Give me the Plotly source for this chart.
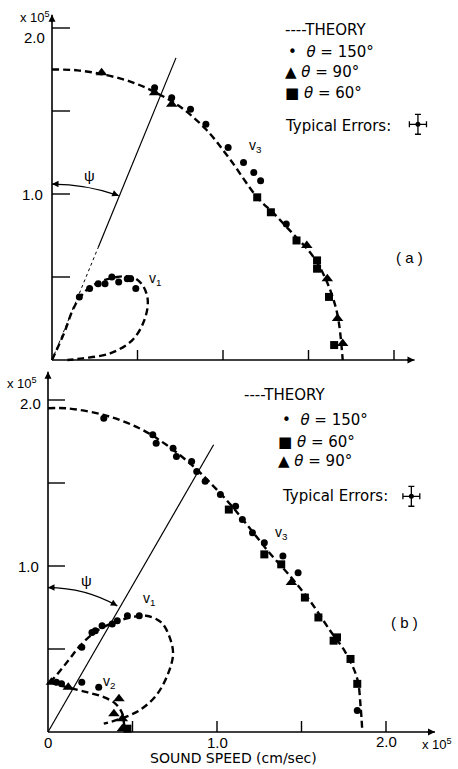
import plotly.graph_objects as go

# ---------------- panel (a) ----------------
a_v3_theory_x = [0, 0.15, 0.30, 0.45, 0.60, 0.75, 0.90, 1.04, 1.20, 1.30, 1.40, 1.50, 1.56, 1.62, 1.67, 1.70]
a_v3_theory_y = [1.75, 1.745, 1.72, 1.68, 1.615, 1.525, 1.39, 1.21, 0.98, 0.88, 0.77, 0.66, 0.57, 0.44, 0.27, 0.0]
a_v1_theory_x = [0, 0.07, 0.13, 0.20, 0.28, 0.38, 0.47, 0.53, 0.56, 0.54, 0.47, 0.34, 0.18, 0.09]
a_v1_theory_y = [0, 0.16, 0.32, 0.42, 0.47, 0.50, 0.50, 0.45, 0.36, 0.24, 0.12, 0.04, 0.01, 0.0]

a_c150_x = [0.60, 0.70, 0.81, 0.90, 1.03, 1.12, 1.18, 1.22, 1.37,
            0.16, 0.22, 0.27, 0.31, 0.35, 0.39, 0.44, 0.46, 0.49]
a_c150_y = [1.64, 1.58, 1.51, 1.42, 1.28, 1.19, 1.13, 1.08, 0.82,
            0.38, 0.43, 0.46, 0.46, 0.50, 0.47, 0.49, 0.49, 0.43]
a_t90_x = [0.29, 0.60, 0.70, 1.49, 1.61, 1.67, 1.70]
a_t90_y = [1.73, 1.61, 1.54, 0.69, 0.49, 0.25, 0.10]
a_s60_x = [1.20, 1.28, 1.43, 1.55, 1.55, 1.62, 1.65]
a_s60_y = [0.98, 0.89, 0.72, 0.60, 0.55, 0.38, 0.09]

a_psi_dir = [0.725, 1.82]      # end of the psi line
a_psi_break = 0.27             # below this x the line is dashed
a_arc = [[0, 1.06], [0.20, 1.06], [0.39, 0.99]]

# ---------------- panel (b) ----------------
b_v3_theory_x = [0, 0.11, 0.33, 0.54, 0.70, 0.86, 0.98, 1.08, 1.20, 1.31, 1.44, 1.55, 1.67, 1.76, 1.83, 1.85, 1.86]
b_v3_theory_y = [1.95, 1.95, 1.91, 1.83, 1.73, 1.60, 1.48, 1.37, 1.22, 1.08, 0.93, 0.79, 0.61, 0.48, 0.32, 0.15, 0.0]
b_v1_theory_x = [0.01, 0.04, 0.12, 0.19, 0.29, 0.39, 0.49, 0.58, 0.67, 0.72, 0.74, 0.71, 0.64, 0.54, 0.43, 0.33]
b_v1_theory_y = [0.30, 0.33, 0.43, 0.52, 0.61, 0.66, 0.69, 0.70, 0.66, 0.57, 0.47, 0.35, 0.22, 0.13, 0.08, 0.05]
b_v2_theory_x = [0.01, 0.11, 0.23, 0.33, 0.40, 0.44, 0.45, 0.46]
b_v2_theory_y = [0.30, 0.27, 0.24, 0.21, 0.17, 0.11, 0.05, 0.0]

b_c150_x = [0.33, 0.62, 0.64, 0.74, 0.76, 0.85, 0.88, 0.93, 1.02, 1.11, 1.15, 1.21, 1.28, 1.39, 1.48, 1.83,
            0.05, 0.08, 0.20, 0.26, 0.28, 0.32, 0.38, 0.41, 0.47, 0.54, 0.20, 0.30]
b_c150_y = [1.89, 1.79, 1.74, 1.71, 1.66, 1.63, 1.57, 1.51, 1.43, 1.36, 1.28, 1.20, 1.14, 1.06, 0.96, 0.13,
            0.30, 0.29, 0.51, 0.60, 0.61, 0.64, 0.65, 0.67, 0.70, 0.70, 0.30, 0.27]
b_s60_x = [1.07, 1.28, 1.38, 1.52, 1.60, 1.69, 1.71, 1.79, 1.83, 0.47]
b_s60_y = [1.34, 1.07, 1.01, 0.81, 0.69, 0.55, 0.57, 0.44, 0.29, 0.02]
b_t90_x = [1.44, 0.02, 0.12, 0.42, 0.39, 0.44, 0.44]
b_t90_y = [0.90, 0.30, 0.27, 0.20, 0.11, 0.08, 0.02]

b_psi_dir = [0.98, 1.73]
b_arc = [[0, 0.87], [0.22, 0.87], [0.41, 0.76]]

ticks = [0.5, 1.0, 1.5, 2.0]

W, H = 458, 769
# pixel position of each origin and pixels per 1e5 cm/s
A_ORG, A_SX, A_SY, A_TOP, A_BOT = (52, 360), 171, 166, 0, 369
B_ORG, B_SX, B_SY, B_TOP, B_BOT = (48, 732), 169, 166, 370, 769

INK = "black"
FONT = "Liberation Sans"
WIDE = "DejaVu Sans"

fig = go.Figure()


def theory(x, y, xa, ya):
    fig.add_trace(go.Scatter(x=x, y=y, xaxis=xa, yaxis=ya, mode="lines",
                             line=dict(color=INK, width=2.4, dash="7px,4px", shape="spline", smoothing=1.0),
                             showlegend=False, hoverinfo="skip"))


def pts(x, y, sym, size, xa, ya):
    fig.add_trace(go.Scatter(x=x, y=y, xaxis=xa, yaxis=ya, mode="markers",
                             marker=dict(symbol=sym, size=size, color=INK), showlegend=False))


theory(a_v3_theory_x, a_v3_theory_y, "x", "y")
theory(a_v1_theory_x, a_v1_theory_y, "x", "y")
pts(a_c150_x, a_c150_y, "circle", 7, "x", "y")
pts(a_t90_x, a_t90_y, "triangle-up", 10, "x", "y")
pts(a_s60_x, a_s60_y, "square", 8, "x", "y")

theory(b_v3_theory_x, b_v3_theory_y, "x2", "y2")
theory(b_v1_theory_x, b_v1_theory_y, "x2", "y2")
theory(b_v2_theory_x, b_v2_theory_y, "x2", "y2")
pts(b_c150_x, b_c150_y, "circle", 7, "x2", "y2")
pts(b_s60_x, b_s60_y, "square", 8, "x2", "y2")
pts(b_t90_x, b_t90_y, "triangle-up", 10, "x2", "y2")

# psi lines
slope_a = a_psi_dir[1] / a_psi_dir[0]
fig.add_trace(go.Scatter(x=[0, a_psi_break], y=[0, a_psi_break * slope_a], xaxis="x", yaxis="y", mode="lines",
                         line=dict(color=INK, width=1, dash="3px,3px"), showlegend=False))
fig.add_trace(go.Scatter(x=[a_psi_break, a_psi_dir[0]], y=[a_psi_break * slope_a, a_psi_dir[1]], xaxis="x", yaxis="y",
                         mode="lines", line=dict(color=INK, width=1.2), showlegend=False))
fig.add_trace(go.Scatter(x=[0, b_psi_dir[0]], y=[0, b_psi_dir[1]], xaxis="x2", yaxis="y2", mode="lines",
                         line=dict(color=INK, width=1.2), showlegend=False))

# typical error glyphs
for xa, ya, gx in (("x", "y", 2.14), ("x2", "y2", 2.15)):
    fig.add_trace(go.Scatter(x=[gx], y=[1.42], xaxis=xa, yaxis=ya, mode="markers",
                             marker=dict(size=5, color=INK),
                             error_x=dict(type="constant", value=0.05, color=INK, thickness=1.3, width=3),
                             error_y=dict(type="constant", value=0.06, color=INK, thickness=1.3, width=3),
                             showlegend=False))

shapes = []
ann = []


def axes(xr, yr, x_end, y_end, sx, sy, xtick_len, ytick_len):
    shapes.append(dict(type="line", xref=xr, yref=yr, x0=0, y0=0, x1=0, y1=y_end, line=dict(color=INK, width=1.6)))
    shapes.append(dict(type="line", xref=xr, yref=yr, x0=0, y0=0, x1=x_end, y1=0, line=dict(color=INK, width=1.6)))
    for t in ticks:
        shapes.append(dict(type="line", xref=xr, yref=yr, x0=0, y0=t, x1=ytick_len / sx, y1=t,
                           line=dict(color=INK, width=1.4)))
        shapes.append(dict(type="line", xref=xr, yref=yr, x0=t, y0=0, x1=t, y1=xtick_len / sy,
                           line=dict(color=INK, width=1.4)))
    ann.append(dict(xref=xr, yref=yr, x=0, y=y_end, ax=0, ay=9, text="", showarrow=True,
                    arrowhead=2, arrowsize=1, arrowwidth=1.4, arrowcolor=INK))
    ann.append(dict(xref=xr, yref=yr, x=x_end, y=0, ax=-9, ay=0, text="", showarrow=True,
                    arrowhead=2, arrowsize=1, arrowwidth=1.4, arrowcolor=INK))


axes("x", "y", 2.12, 2.08, A_SX, A_SY, 10, 18)
axes("x2", "y2", 2.29, 2.17, B_SX, B_SY, 11, 17)


def arc(xr, yr, p, tail_end):
    (x0, y0), (cx, cy), (x1, y1) = p
    shapes.append(dict(type="path", xref=xr, yref=yr, path=f"M {x0},{y0} Q {cx},{cy} {x1},{y1}",
                       line=dict(color=INK, width=1.3)))
    ann.append(dict(xref=xr, yref=yr, x=x0, y=y0, ax=8, ay=0, text="", showarrow=True,
                    arrowhead=2, arrowsize=1, arrowwidth=1.3, arrowcolor=INK))
    ann.append(dict(xref=xr, yref=yr, x=x1, y=y1, ax=tail_end[0], ay=tail_end[1], text="", showarrow=True,
                    arrowhead=2, arrowsize=1, arrowwidth=1.3, arrowcolor=INK))


arc("x", "y", a_arc, (-7.4, -3.0))
arc("x2", "y2", b_arc, (-7.0, -3.9))


def txt(xr, yr, x, y, s, size=14, xanchor="center", yanchor="middle", family=FONT):
    ann.append(dict(xref=xr, yref=yr, x=x, y=y, text=s, showarrow=False, xanchor=xanchor, yanchor=yanchor,
                    font=dict(family=family, size=size, color=INK)))


# panel (a) text
txt("x", "y", -0.10, 2.006, "x 10<sup>5</sup>", 13, yanchor="bottom")
txt("x", "y", -0.03, 2.006, "2.0", 15, "right", "top")
txt("x", "y", -0.04, 1.0, "1.0", 15, "right")
txt("x", "y", 0.22, 1.11, "ψ", 15)
txt("x", "y", 0.60, 0.49, "v<sub>1</sub>", 14)
txt("x", "y", 1.19, 1.29, "v<sub>3</sub>", 14)
txt("x", "y", 2.09, 0.62, "( a )", 15)
txt("x", "y", 1.35, 1.99, "----THEORY", 15, "left", family=WIDE)
txt("x", "y", 1.37, 1.855, "•  <i>θ</i> = 150°", 15, "left", family=WIDE)
txt("x", "y", 1.35, 1.735, "▲ <i>θ</i> = 90°", 15, "left", family=WIDE)
txt("x", "y", 1.35, 1.61, "■ <i>θ</i> = 60°", 15, "left", family=WIDE)
txt("x", "y", 1.35, 1.41, "Typical Errors:", 15, "left", family=WIDE)

# panel (b) text
txt("x2", "y2", -0.154, 2.042, "x 10<sup>5</sup>", 13, yanchor="bottom")
txt("x2", "y2", -0.03, 2.042, "2.0", 15, "right", "top")
txt("x2", "y2", -0.04, 1.0, "1.0", 15, "right")
txt("x2", "y2", 0.0, -0.066, "0", 15)
txt("x2", "y2", 1.0, -0.066, "1.0", 15)
txt("x2", "y2", 2.0, -0.06, "2.0", 15)
txt("x2", "y2", 2.20, -0.075, "x 10<sup>5</sup>", 13, "left")
txt("x2", "y2", 1.10, (B_ORG[1] - (H - 1)) / B_SY, "SOUND SPEED (cm/sec)", 14, yanchor="bottom", family=WIDE)
txt("x2", "y2", 0.23, 0.91, "ψ", 15)
txt("x2", "y2", 0.60, 0.80, "v<sub>1</sub>", 14)
txt("x2", "y2", 0.36, 0.30, "v<sub>2</sub>", 14)
txt("x2", "y2", 1.38, 1.20, "v<sub>3</sub>", 14)
txt("x2", "y2", 2.11, 0.66, "( b )", 15)
txt("x2", "y2", 1.15, 2.03, "----THEORY", 15, "left", family=WIDE)
txt("x2", "y2", 1.37, 1.88, "•  <i>θ</i> = 150°", 15, "left", family=WIDE)
txt("x2", "y2", 1.35, 1.75, "■ <i>θ</i> = 60°", 15, "left", family=WIDE)
txt("x2", "y2", 1.35, 1.63, "▲ <i>θ</i> = 90°", 15, "left", family=WIDE)
txt("x2", "y2", 1.37, 1.42, "Typical Errors:", 15, "left", family=WIDE)


def rng(org, scale, lo_px, hi_px):
    return [(lo_px - org) / scale, (hi_px - org) / scale]


fig.update_layout(
    width=W, height=H, margin=dict(l=0, r=0, t=0, b=0),
    paper_bgcolor="white", plot_bgcolor="white", showlegend=False,
    xaxis=dict(domain=[0, 1], range=rng(A_ORG[0], A_SX, 0, W), visible=False, anchor="y"),
    yaxis=dict(domain=[1 - A_BOT / H, 1], range=[(A_ORG[1] - A_BOT) / A_SY, (A_ORG[1] - A_TOP) / A_SY],
               visible=False, anchor="x"),
    xaxis2=dict(domain=[0, 1], range=rng(B_ORG[0], B_SX, 0, W), visible=False, anchor="y2"),
    yaxis2=dict(domain=[0, 1 - B_TOP / H], range=[(B_ORG[1] - B_BOT) / B_SY, (B_ORG[1] - B_TOP) / B_SY],
                visible=False, anchor="x2"),
    shapes=shapes, annotations=ann,
)

# the page's default body margin would shift the figure by 8px
fig.write_html("out.html", config={"displayModeBar": False},
               post_script="document.body.style.margin='0';document.body.style.overflow='hidden';")
